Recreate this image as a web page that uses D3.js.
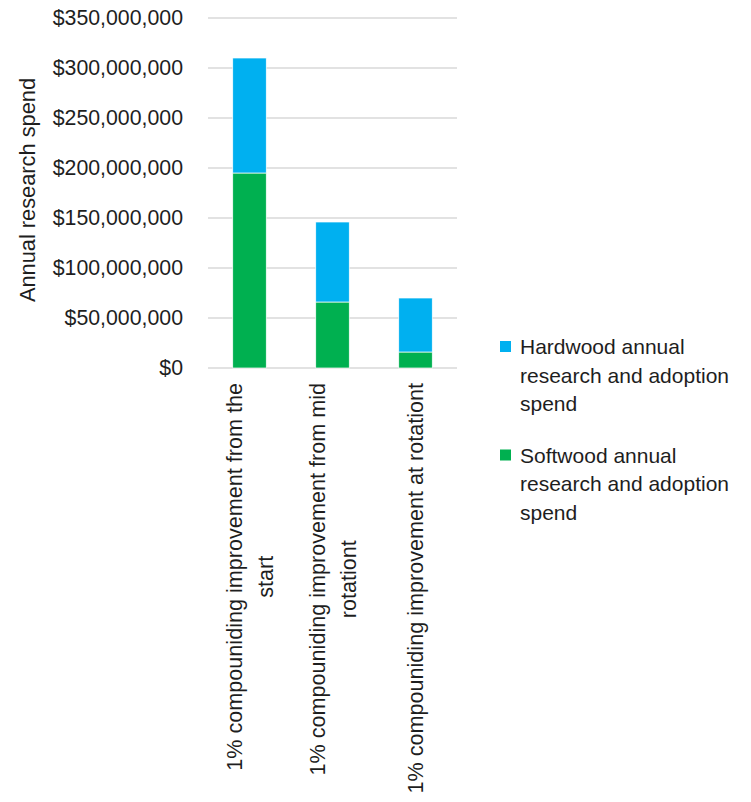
<!DOCTYPE html>
<html>
<head>
<meta charset="utf-8">
<script src="https://cdn.jsdelivr.net/npm/d3@7"></script>
<style>
  html, body { margin: 0; padding: 0; background: #fff; }
  svg { display: block; font-family: "Liberation Sans", Arial, sans-serif; }
</style>
</head>
<body>
<svg id="chart" width="751" height="802"></svg>
<script>
// Categories (multi-line axis labels)
const categories = [
  ["1% compouniding improvement from the", "start"],
  ["1% compouniding improvement from mid", "rotationt"],
  ["1% compouniding improvement at rotationt"]
];
const softwood = [195000000, 66000000, 16000000];
const hardwood = [115000000, 80000000, 54000000];
const yTicks = [0, 50000000, 100000000, 150000000, 200000000, 250000000, 300000000, 350000000];
const legendLines = [
  ["Hardwood annual", "research and adoption", "spend"],
  ["Softwood annual", "research and adoption", "spend"]
];
const colors = { softwood: "#00B050", hardwood: "#00B0F0" };
const textColor = "#1e1e1e";

const svg = d3.select("#chart");
const plot = { left: 208, right: 457, top: 18, bottom: 368 };

const x = d3.scaleBand()
  .domain(d3.range(categories.length))
  .range([plot.left, plot.right])
  .padding(0);
const barW = x.step() * 0.404;

const y = d3.scaleLinear()
  .domain([0, 350000000])
  .range([plot.bottom, plot.top]);

// Gridlines
svg.append("g")
  .selectAll("line")
  .data(yTicks)
  .join("line")
  .attr("x1", plot.left)
  .attr("x2", plot.right)
  .attr("y1", d => y(d))
  .attr("y2", d => y(d))
  .attr("stroke", "#d9d9d9")
  .attr("stroke-width", 1.4);

// Y tick labels
const fmt = d => "$" + d3.format(",")(d);
svg.append("g")
  .selectAll("text")
  .data(yTicks)
  .join("text")
  .attr("x", 183)
  .attr("y", d => y(d))
  .attr("dy", "0.35em")
  .attr("text-anchor", "end")
  .attr("font-size", 21.3)
  .attr("fill", textColor)
  .text(fmt);

// Y axis title
svg.append("text")
  .attr("transform", `translate(34.5,190) rotate(-90)`)
  .attr("text-anchor", "middle")
  .attr("font-size", 21.8)
  .attr("fill", textColor)
  .text("Annual research spend");

// Stacked bars
const rows = categories.map((c, i) => ({ i, softwood: softwood[i], hardwood: hardwood[i] }));
const stack = d3.stack().keys(["softwood", "hardwood"])(rows);

svg.append("g")
  .selectAll("g")
  .data(stack)
  .join("g")
  .attr("fill", d => colors[d.key])
  .selectAll("rect")
  .data(d => d)
  .join("rect")
  .attr("x", d => x(d.data.i) + (x.step() - barW) / 2)
  .attr("width", barW)
  .attr("y", d => y(d[1]))
  .attr("height", d => y(d[0]) - y(d[1]))
  .attr("stroke", "#ffffff")
  .attr("stroke-width", 0.7);

// X category labels, rotated; lines centred on each other, block ends just below the axis
const lineH = 31;
const xl = svg.append("g");
categories.forEach((lines, i) => {
  const cx = x(i) + x.step() / 2;
  const t = xl.append("text")
    .attr("transform", `translate(${cx},383) rotate(-90)`)
    .attr("text-anchor", "middle")
    .attr("font-size", 21.6)
    .attr("fill", textColor);
  const n = lines.length;
  lines.forEach((ln, k) => {
    t.append("tspan")
      .attr("x", 0)
      .attr("y", (k - (n - 1) / 2) * lineH + 7.5)
      .text(ln);
  });
});
xl.selectAll("text").each(function () {
  const bb = this.getBBox();
  d3.select(this).selectAll("tspan").attr("x", -bb.width / 2);
});

// Legend
const legend = svg.append("g");
const legendTop = [354, 462.5];
const legendColors = [colors.hardwood, colors.softwood];
legendLines.forEach((lines, i) => {
  legend.append("rect")
    .attr("x", 500)
    .attr("y", legendTop[i] - 13)
    .attr("width", 11)
    .attr("height", 11)
    .attr("fill", legendColors[i]);
  const t = legend.append("text")
    .attr("font-size", 21)
    .attr("fill", textColor);
  lines.forEach((ln, k) => {
    t.append("tspan")
      .attr("x", 520)
      .attr("y", legendTop[i] + k * 28.5)
      .text(ln);
  });
});
</script>
</body>
</html>
